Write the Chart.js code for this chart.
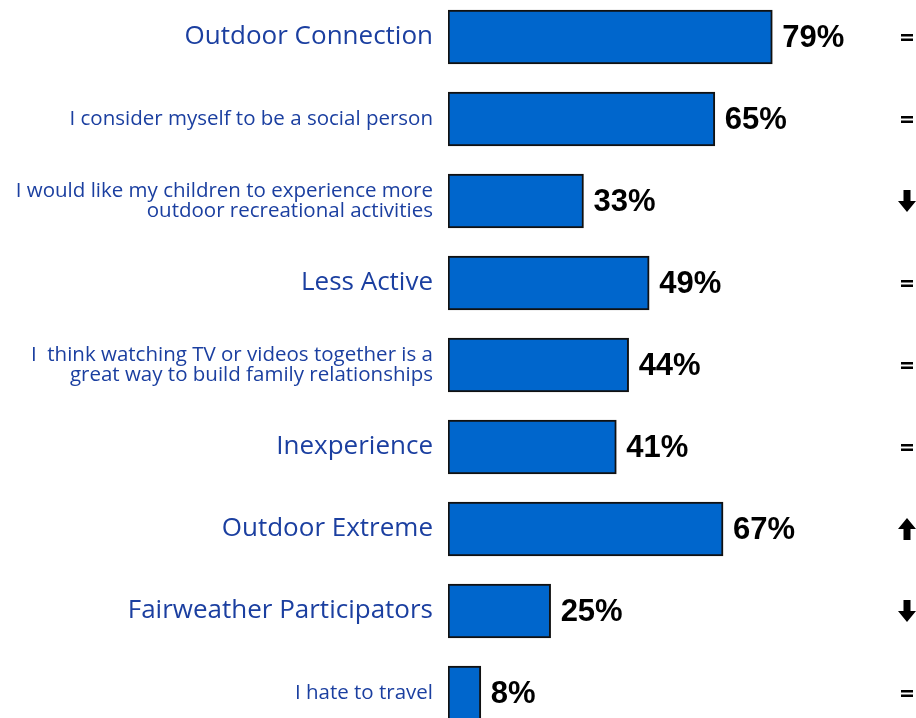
<!DOCTYPE html>
<html>
<head>
<meta charset="utf-8">
<script src="https://cdn.jsdelivr.net/npm/chart.js@4/dist/chart.umd.min.js"></script>
<style>
  html, body { margin: 0; padding: 0; background: #ffffff; overflow: hidden; width: 916px; height: 718px; }
  #wrap { position: absolute; left: 0; top: -4px; width: 916px; height: 738px; }
</style>
</head>
<body>
<div id="wrap"><canvas id="c" width="916" height="738"></canvas></div>
<script>
const categories = [
  'Outdoor Connection',
  'I consider myself to be a social person',
  ['I would like my children to experience more', 'outdoor recreational activities'],
  'Less Active',
  ['I  think watching TV or videos together is a', 'great way to build family relationships'],
  'Inexperience',
  'Outdoor Extreme',
  'Fairweather Participators',
  'I hate to travel'
];
const values = [79, 65, 33, 49, 44, 41, 67, 25, 8];
const valueLabels = ['79%', '65%', '33%', '49%', '44%', '41%', '67%', '25%', '8%'];
const trends = ['=', '=', 'down', '=', '=', '=', 'up', 'down', '='];
const isSegment = [true, false, false, true, false, true, true, true, false];

const labelColor = '#1b3fa0';

const valueLabelPlugin = {
  id: 'valueLabels',
  afterDatasetsDraw(chart) {
    const ctx = chart.ctx;
    const meta = chart.getDatasetMeta(0);
    ctx.save();
    ctx.font = 'bold 31px "Liberation Sans", Arial, sans-serif';
    ctx.fillStyle = '#000000';
    ctx.textAlign = 'left';
    ctx.textBaseline = 'middle';
    meta.data.forEach((el, i) => {
      ctx.fillText(valueLabels[i], el.x + 10, el.y + 1);
    });
    ctx.restore();
  }
};

const trendPlugin = {
  id: 'trends',
  afterDatasetsDraw(chart) {
    const ctx = chart.ctx;
    const meta = chart.getDatasetMeta(0);
    const cx = chart.chartArea.right - 9;
    ctx.save();
    ctx.fillStyle = '#000000';
    meta.data.forEach((el, i) => {
      const y = el.y;
      const t = trends[i];
      if (t === '=') {
        ctx.fillRect(cx - 6, y - 3, 12, 2.5);
        ctx.fillRect(cx - 6, y + 1.5, 12, 2.5);
      } else {
        const dir = t === 'down' ? 1 : -1;
        const tip = y + 11 * dir;
        const headBase = y + 0 * dir;
        const tail = y - 11 * dir;
        ctx.beginPath();
        ctx.moveTo(cx - 3.5, tail);
        ctx.lineTo(cx + 3.5, tail);
        ctx.lineTo(cx + 3.5, headBase);
        ctx.lineTo(cx + 9, headBase);
        ctx.lineTo(cx, tip);
        ctx.lineTo(cx - 9, headBase);
        ctx.lineTo(cx - 3.5, headBase);
        ctx.closePath();
        ctx.fill();
      }
    });
    ctx.restore();
  }
};

new Chart(document.getElementById('c'), {
  type: 'bar',
  data: {
    labels: categories,
    datasets: [{
      data: values,
      backgroundColor: '#0066cc',
      borderColor: '#111111',
      borderWidth: 2,
      borderSkipped: false,
      barThickness: 54
    }]
  },
  options: {
    indexAxis: 'y',
    responsive: false,
    devicePixelRatio: 1,
    animation: false,
    layout: { padding: 0 },
    plugins: {
      legend: { display: false },
      tooltip: { enabled: false }
    },
    scales: {
      x: {
        display: false,
        min: 0,
        max: 114
      },
      y: {
        grid: { display: false, drawTicks: false },
        border: { display: false },
        afterFit(scale) {
          scale.width = 448;
          scale.paddingTop = 0;
          scale.paddingBottom = 0;
        },
        ticks: {
          autoSkip: false,
          padding: 15,
          color: labelColor,
          font: (ctx) => ({
            family: '"Open Sans", "Noto Sans", sans-serif',
            size: isSegment[ctx.index] ? 26 : 20.5,
            lineHeight: isSegment[ctx.index] ? 1.1 : 0.98
          })
        }
      }
    }
  },
  plugins: [valueLabelPlugin, trendPlugin]
});
</script>
</body>
</html>
